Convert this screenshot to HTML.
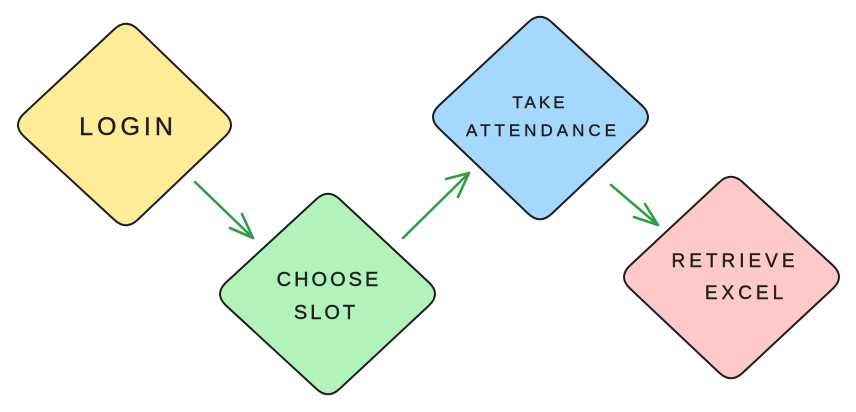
<!DOCTYPE html>
<html><head><meta charset="utf-8"><style>
html,body{margin:0;padding:0;background:#fff;}
svg{display:block;}
text{font-family:"Liberation Sans",sans-serif;fill:#1e1e1e;text-anchor:middle;stroke:#1e1e1e;stroke-width:0.4;}
</style></head><body>
<svg width="856" height="412" viewBox="0 0 856 412" xmlns="http://www.w3.org/2000/svg">
<g stroke="#1e1e1e" stroke-width="2" stroke-linejoin="round">
<path fill="#ffec99" d="M 24,113.5 L 114,29.5 Q 126,18 138,29.5 L 225,113.5 Q 237,125 225,136.5 L 138,219.5 Q 126,231 114,219.5 L 24,136.5 Q 12,125 24,113.5 Z"/>
<path fill="#b2f2bb" d="M 226,282.5 L 316,199.5 Q 328,188 340,199.5 L 429,282.5 Q 441,294 429,305.5 L 340,388.5 Q 328,400 316,388.5 L 226,305.5 Q 214,294 226,282.5 Z"/>
<path fill="#a5d8ff" d="M 439,105.5 L 528,22.5 Q 540,11 552,22.5 L 642,105.5 Q 654,117 642,128.5 L 552,213.5 Q 540,225 528,213.5 L 439,128.5 Q 427,117 439,105.5 Z"/>
<path fill="#ffc9c9" d="M 630,265.5 L 719,182.5 Q 731,171 743,182.5 L 833,265.5 Q 845,277 833,288.5 L 743,372.5 Q 731,384 719,372.5 L 630,288.5 Q 618,277 630,265.5 Z"/>
</g>
<g stroke="#2f9e44" stroke-width="2.6" fill="none" stroke-linecap="round" stroke-linejoin="round">
<path d="M195,182 L253,238"/><path d="M242,214 L253,238 L230,228"/>
<path d="M403,238 L469,173"/><path d="M446,179 L469,173 L458,197"/>
<path d="M611,185 L658,225"/><path d="M645,204 L658,225 L634,217"/>
</g>
<g>
<text x="128" y="135" font-size="25" letter-spacing="4">LOGIN</text>
<text x="329" y="286" font-size="20" letter-spacing="3">CHOOSE</text>
<text x="326" y="319" font-size="20" letter-spacing="3">SLOT</text>
<text x="540" y="108" font-size="17" letter-spacing="3">TAKE</text>
<text x="543" y="136" font-size="17" letter-spacing="4">ATTENDANCE</text>
<text x="735" y="267" font-size="19" letter-spacing="4">RETRIEVE</text>
<text x="746" y="299" font-size="19" letter-spacing="4">EXCEL</text>
</g>
</svg>
</body></html>
